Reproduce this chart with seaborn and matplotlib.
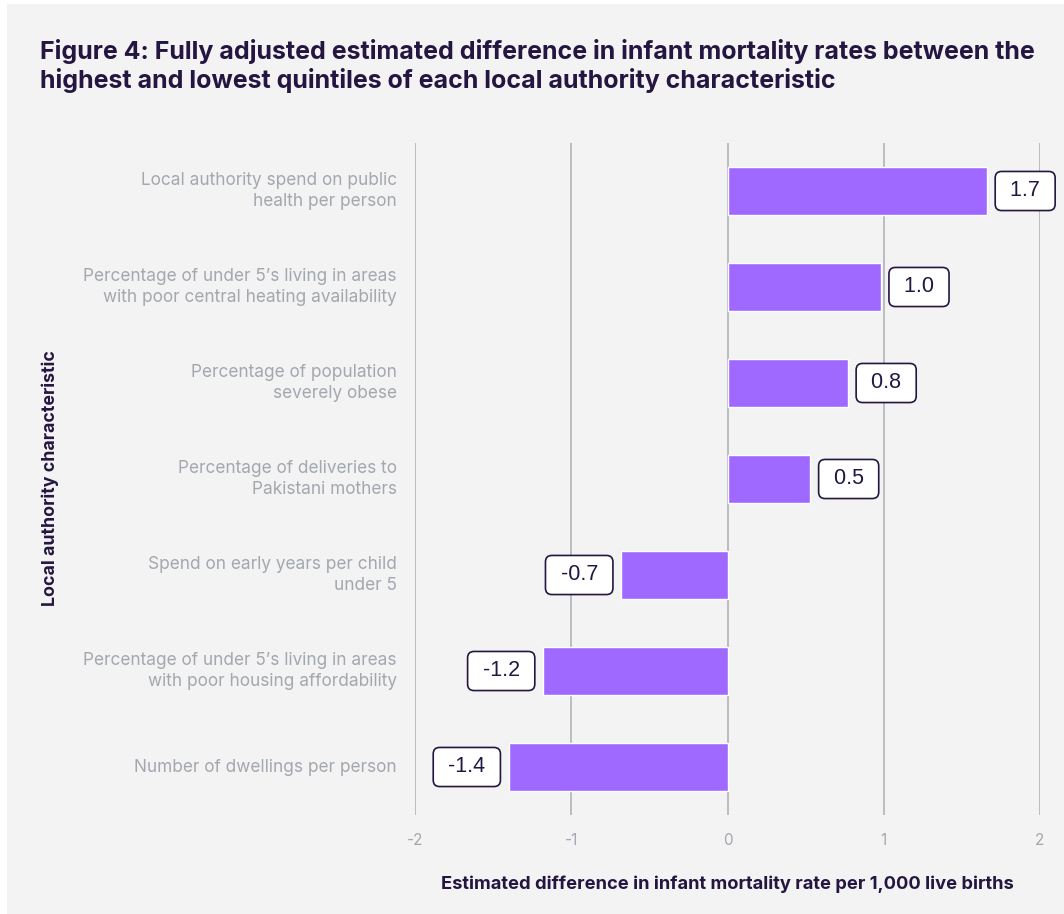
import matplotlib
matplotlib.use("Agg")
import matplotlib.pyplot as plt
import seaborn as sns
import pandas as pd
from matplotlib.patches import Rectangle

categories = [
    "Local authority spend on public\nhealth per person",
    "Percentage of under 5\u2019s living in areas\nwith poor central heating availability",
    "Percentage of population\nseverely obese",
    "Percentage of deliveries to\nPakistani mothers",
    "Spend on early years per child\nunder 5",
    "Percentage of under 5\u2019s living in areas\nwith poor housing affordability",
    "Number of dwellings per person",
]
values = [1.66, 0.98, 0.77, 0.53, -0.68, -1.18, -1.40]
value_labels = ["1.7", "1.0", "0.8", "0.5", "-0.7", "-1.2", "-1.4"]
x_ticks = [-2, -1, 0, 1, 2]

title = ("Figure 4: Fully adjusted estimated difference in infant mortality rates between the\n"
         "highest and lowest quintiles of each local authority characteristic")
x_label = "Estimated difference in infant mortality rate per 1,000 live births"
y_label = "Local authority characteristic"

BG = "#f3f3f3"
BAR = "#9f69ff"
DARK = "#241640"
GRAY = "#a3a7ae"
GRID = "#b5b8be"

sns.set_theme(style="white")
plt.rcParams["font.family"] = ["Inter", "DejaVu Sans"]

df = pd.DataFrame({"cat": categories, "val": values})

fig = plt.figure(figsize=(10.64, 9.14), dpi=100, facecolor=BG)
# thin white frame on the left and top edges
fig.patches.append(Rectangle((0, 0), 7 / 1064, 1, transform=fig.transFigure,
                             fc="white", ec="none", zorder=0))
fig.patches.append(Rectangle((0, 1 - 4 / 914), 1, 4 / 914, transform=fig.transFigure,
                             fc="white", ec="none", zorder=0))

ax = fig.add_axes([415 / 1064, 1 - 815 / 914, 625 / 1064, 672 / 914])
ax.set_facecolor(BG)

sns.barplot(data=df, x="val", y="cat", orient="h", color=BAR, width=0.51,
            saturation=1, ax=ax, zorder=3)

ax.set_xlim(-2, 2)
ax.set_ylim(6.5, -0.5)
ax.set_xticks(x_ticks)
ax.set_xticklabels([str(t) for t in x_ticks])
ax.xaxis.grid(True, color=GRID, linewidth=1.3, zorder=0)
ax.set_axisbelow(True)
for s in ax.spines.values():
    s.set_visible(False)
ax.tick_params(axis="x", colors=GRAY, labelsize=11, length=0, pad=13)
ax.tick_params(axis="y", colors=GRAY, labelsize=12.4, length=0, pad=13)
for lbl in ax.get_yticklabels():
    lbl.set_linespacing(1.35)
    lbl.set_horizontalalignment("right")
    lbl.set_verticalalignment("center")

ax.set_xlabel(x_label, fontsize=13.2, fontweight="bold", color=DARK, labelpad=20)
ax.set_ylabel("")
fig.text(50 / 1064, 1 - 478 / 914, y_label, rotation=90, fontsize=12.8,
         fontweight="bold", color=DARK, ha="center", va="center")

for i, (v, t) in enumerate(zip(values, value_labels)):
    off = 12.5 if v >= 0 else -12.5
    ax.annotate(" " + t + " ", xy=(v, i), xytext=(off, 0), textcoords="offset points",
                ha="left" if v >= 0 else "right", va="center",
                fontsize=15.5, color=DARK, family=["Liberation Sans", "DejaVu Sans"],
                zorder=5,
                bbox=dict(boxstyle="round,pad=0.42,rounding_size=0.3", fc="white",
                          ec=DARK, lw=1.2))

fig.text(40 / 1064, 1 - 39 / 914, title, fontsize=18, fontweight="bold",
         color=DARK, ha="left", va="top", linespacing=1.2)

fig.savefig("out.png", dpi=100, facecolor=BG)
